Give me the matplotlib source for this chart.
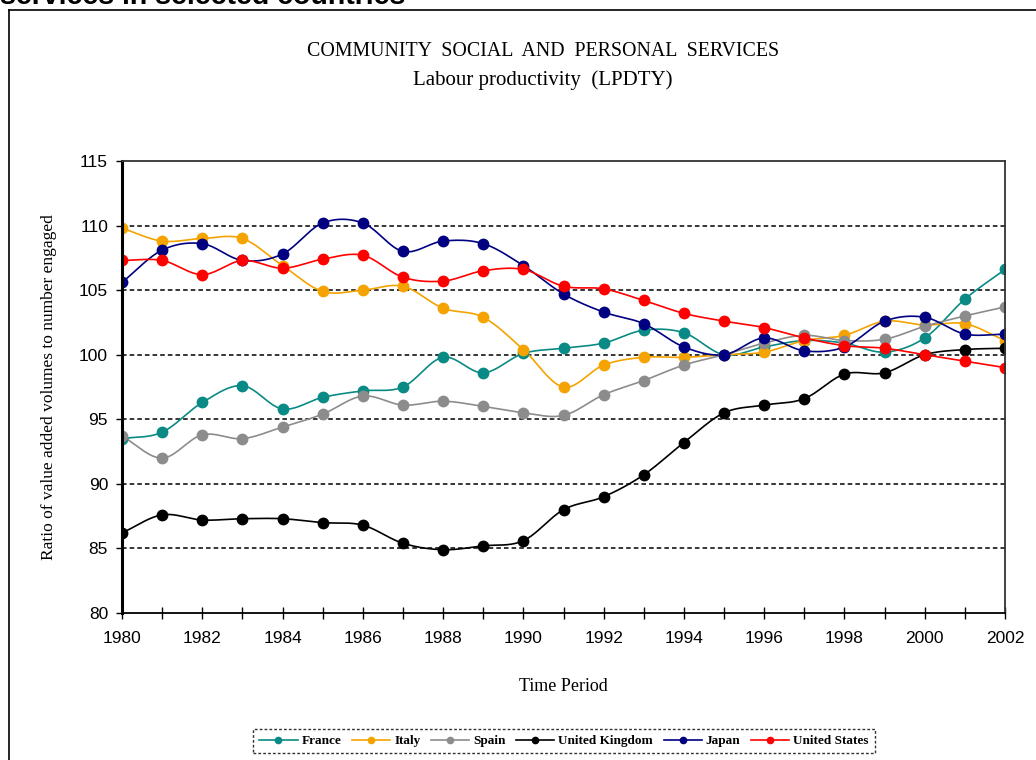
import numpy as np
import matplotlib
matplotlib.use("Agg")
import matplotlib.pyplot as plt
from matplotlib.lines import Line2D

years = list(range(1980, 2003))

france = [93.5, 94.0, 96.3, 97.6, 95.8, 96.7, 97.2, 97.5, 99.8, 98.6, 100.1, 100.5,
          100.9, 101.9, 101.7, 100.0, 100.6, 101.1, 100.9, 100.2, 101.3, 104.3, 106.6]
italy = [109.8, 108.8, 109.0, 109.0, 106.9, 104.9, 105.0, 105.3, 103.6, 102.9, 100.4, 97.5,
         99.2, 99.8, 99.8, 100.0, 100.2, 101.1, 101.5, 102.6, 102.3, 102.4, 101.1]
spain = [93.7, 92.0, 93.8, 93.5, 94.4, 95.4, 96.8, 96.1, 96.4, 96.0, 95.5, 95.3,
         96.9, 98.0, 99.2, 100.0, 100.9, 101.5, 101.1, 101.2, 102.2, 103.0, 103.7]
uk = [86.2, 87.6, 87.2, 87.3, 87.3, 87.0, 86.8, 85.4, 84.9, 85.2, 85.6, 88.0,
      89.0, 90.7, 93.2, 95.5, 96.1, 96.6, 98.5, 98.6, 100.0, 100.4, 100.5]
japan = [105.6, 108.1, 108.6, 107.3, 107.8, 110.2, 110.2, 108.0, 108.8, 108.6, 106.9, 104.7,
         103.3, 102.4, 100.6, 100.0, 101.3, 100.3, 100.6, 102.6, 102.9, 101.6, 101.6]
usa = [107.3, 107.3, 106.2, 107.3, 106.7, 107.4, 107.7, 106.0, 105.7, 106.5, 106.6, 105.3,
       105.1, 104.2, 103.2, 102.6, 102.1, 101.3, 100.7, 100.5, 100.0, 99.5, 99.0]

series_names = ["France", "Italy", "Spain", "United Kingdom", "Japan", "United States"]
series_values = [france, italy, spain, uk, japan, usa]
series_colors = ["#0a8a84", "#f5a300", "#8c8c8c", "#000000", "#000080", "#ff0000"]

yticks = [80, 85, 90, 95, 100, 105, 110, 115]
xticks = list(range(1980, 2003, 2))

serif = ["Liberation Serif", "DejaVu Serif"]
sans = ["Liberation Sans", "DejaVu Sans"]


def smooth(x, y, n=20):
    # Catmull-Rom spline through the data points (Excel-like smoothed line)
    x = np.asarray(x, float)
    y = np.asarray(y, float)
    px = np.concatenate([[2 * x[0] - x[1]], x, [2 * x[-1] - x[-2]]])
    py = np.concatenate([[2 * y[0] - y[1]], y, [2 * y[-1] - y[-2]]])
    xs, ys = [], []
    t = np.linspace(0, 1, n, endpoint=False)
    for i in range(1, len(px) - 2):
        for arr, out in ((px, xs), (py, ys)):
            p0, p1, p2, p3 = arr[i - 1], arr[i], arr[i + 1], arr[i + 2]
            seg = 0.5 * ((2 * p1) + (-p0 + p2) * t + (2 * p0 - 5 * p1 + 4 * p2 - p3) * t ** 2
                         + (-p0 + 3 * p1 - 3 * p2 + p3) * t ** 3)
            out.extend(seg)
    xs.append(x[-1])
    ys.append(y[-1])
    return np.array(xs), np.array(ys)


W, H = 1036, 760
fig = plt.figure(figsize=(W / 100, H / 100), dpi=100)

# outer frame (partially cut off)
fig.add_artist(Line2D([9 / W, 9 / W], [1 - 10 / H, 0], transform=fig.transFigure, color="black", lw=1.2))
fig.add_artist(Line2D([9 / W, 1.0], [1 - 10 / H, 1 - 10 / H], transform=fig.transFigure, color="black", lw=1.2))

fig.text(0 / W, 1 - 4 / H, "services in selected countries", fontsize=20.5, fontweight="bold",
         family=sans, ha="left", va="baseline")

fig.text(543 / W, 1 - 51 / H, "COMMUNITY  SOCIAL  AND  PERSONAL  SERVICES", fontsize=14.3,
         family=serif, ha="center", va="center")
fig.text(543 / W, 1 - 80 / H, "Labour productivity  (LPDTY)", fontsize=15,
         family=serif, ha="center", va="center")

ax = fig.add_axes([122 / W, 1 - 613 / H, (1005 - 122) / W, (613 - 161) / H])

for name, vals, col in zip(series_names, series_values, series_colors):
    sx, sy = smooth(years, vals)
    ax.plot(sx, sy, color=col, lw=1.2, zorder=3)
    ax.plot(years, vals, "o", color=col, ms=8.5, zorder=4, markeredgewidth=0)

ax.set_xlim(1980, 2002)
ax.set_ylim(80, 115)
ax.set_xticks(xticks)
ax.set_yticks(yticks)
ax.set_xticks(years, minor=True)
ax.tick_params(axis="x", which="both", direction="inout", length=8, width=1, labelsize=12.5, pad=9)
ax.tick_params(axis="y", which="major", direction="out", length=4, width=1, labelsize=12.5, pad=6)
for lbl in ax.get_xticklabels() + ax.get_yticklabels():
    lbl.set_family(sans)

for v in [85, 90, 95, 100, 105, 110]:
    ax.axhline(v, color="black", lw=1.1, ls=(0, (3, 2)), zorder=1)

ax.spines["left"].set_linewidth(2.2)
ax.spines["bottom"].set_linewidth(1.3)
ax.spines["top"].set_color("#333333")
ax.spines["right"].set_color("#333333")
ax.spines["top"].set_linewidth(1.3)
ax.spines["right"].set_linewidth(1.3)
for s in ax.spines.values():
    s.set_zorder(5)
    s.set_clip_on(False)

ax.set_xlabel("Time Period", family=serif, fontsize=13, labelpad=23)
ax.set_ylabel("Ratio of value added volumes to number engaged", family=serif, fontsize=12.5, labelpad=16)

handles = [Line2D([0], [0], color=c, lw=1.2, marker="o", ms=4.5) for c in series_colors]
leg = fig.legend(handles, series_names, loc="center", bbox_to_anchor=(564 / W, 1 - 741 / H),
                 ncol=6, frameon=True, fancybox=False,
                 prop={"family": serif, "weight": "bold", "size": 9.5},
                 handlelength=2.9, handletextpad=0.3, columnspacing=0.8, borderpad=0.45)
frame = leg.get_frame()
frame.set_edgecolor("black")
frame.set_linestyle((0, (2, 1.5)))
frame.set_linewidth(1.0)

fig.savefig("out.png", dpi=100)
